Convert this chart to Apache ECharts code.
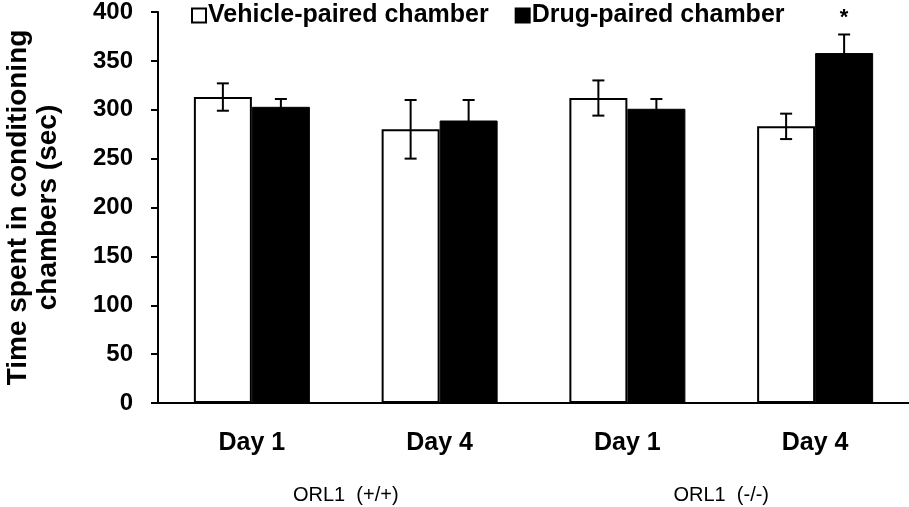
<!DOCTYPE html>
<html>
<head>
<meta charset="utf-8">
<script src="https://cdn.jsdelivr.net/npm/echarts@6/dist/echarts.min.js"></script>
<style>html,body{margin:0;padding:0;background:#fff}#c{width:909px;height:507px}</style>
</head>
<body>
<div id="c"></div>
<script>
const days = ['Day 1', 'Day 4', 'Day 1', 'Day 4'];
const genotypes = ['ORL1  (+/+)', 'ORL1  (-/-)'];
const vehicle = [313, 280, 312, 283];
const vehicleErr = [14, 30, 18, 13];
const drug = [303, 289, 301, 358];
const drugErr = [8, 21, 10, 19];
const significance = ['', '', '', '*'];
const yTicks = [0, 50, 100, 150, 200, 250, 300, 350, 400];

const BAR_W = 58;
const FONT = 'Liberation Sans, Arial, sans-serif';

function errSeries(name, values, errs, offset, marks) {
  return {
    type: 'custom',
    name: name + ' err',
    xAxisIndex: 0, yAxisIndex: 0,
    silent: true,
    z: 5,
    data: values.map((v, i) => [i, v, errs[i]]),
    renderItem: function (params, api) {
      const i = api.value(0), v = api.value(1), e = api.value(2);
      const top = api.coord([i, v + e]);
      const bot = api.coord([i, v - e]);
      const x = top[0] + offset;
      const cap = 6;
      const st = { stroke: '#000', lineWidth: 2 };
      const children = [
        { type: 'line', shape: { x1: x, y1: top[1], x2: x, y2: bot[1] }, style: st },
        { type: 'line', shape: { x1: x - cap, y1: top[1], x2: x + cap, y2: top[1] }, style: st },
        { type: 'line', shape: { x1: x - cap, y1: bot[1], x2: x + cap, y2: bot[1] }, style: st }
      ];
      if (marks && marks[i]) {
        children.push({ type: 'text', style: { text: marks[i], x: x, y: top[1] - 6, align: 'center', verticalAlign: 'bottom', font: 'bold 22px ' + FONT, fill: '#000' } });
      }
      return { type: 'group', children: children };
    }
  };
}

const chart = echarts.init(document.getElementById('c'), null, { renderer: 'canvas' });
chart.setOption({
  animation: false,
  backgroundColor: '#fff',
  textStyle: { fontFamily: FONT },
  legend: {
    left: 186, top: -2,
    itemWidth: 14, itemHeight: 14, itemGap: 26,
    icon: 'rect',
    data: ['Vehicle-paired chamber', 'Drug-paired chamber'],
    textStyle: { fontSize: 25, fontWeight: 'bold', color: '#000', fontFamily: FONT, padding: [0, 0, 0, -3] }
  },
  grid: { left: 158, right: 0, top: 12, bottom: 104, containLabel: false, outerBoundsMode: 'none' },
  xAxis: [
    {
      type: 'category', data: days, position: 'bottom',
      axisLine: { lineStyle: { color: '#000', width: 2 } },
      axisTick: { show: false },
      axisLabel: { color: '#000', fontSize: 25, fontWeight: 'bold', margin: 28, fontFamily: FONT }
    },
    {
      type: 'category', data: genotypes, position: 'bottom',
      axisLine: { show: false }, axisTick: { show: false },
      axisLabel: { color: '#000', fontSize: 20, margin: 82, fontFamily: FONT }
    }
  ],
  yAxis: {
    type: 'value', min: yTicks[0], max: yTicks[yTicks.length - 1], interval: 50,
    name: 'Time spent in conditioning\nchambers (sec)',
    nameLocation: 'middle', nameRotate: 90, nameGap: 95,
    nameTextStyle: { fontSize: 28, fontWeight: 'bold', color: '#000', lineHeight: 30, fontFamily: FONT },
    axisLine: { show: true, lineStyle: { color: '#000', width: 2 } },
    axisTick: { show: true, length: 7, lineStyle: { color: '#000', width: 2 } },
    splitLine: { show: false },
    axisLabel: { color: '#000', fontSize: 24, fontWeight: 'bold', margin: 25, fontFamily: FONT }
  },
  series: [
    {
      type: 'bar', name: 'Vehicle-paired chamber', data: vehicle,
      barWidth: BAR_W, barGap: '0%',
      itemStyle: { color: '#fff', borderColor: '#000', borderWidth: 2 }
    },
    {
      type: 'bar', name: 'Drug-paired chamber', data: drug,
      barWidth: BAR_W, barGap: '0%',
      itemStyle: { color: '#000', borderColor: '#000', borderWidth: 1 }
    },
    errSeries('Vehicle-paired chamber', vehicle, vehicleErr, -BAR_W / 2, null),
    errSeries('Drug-paired chamber', drug, drugErr, BAR_W / 2, significance)
  ]
});
</script>
</body>
</html>
